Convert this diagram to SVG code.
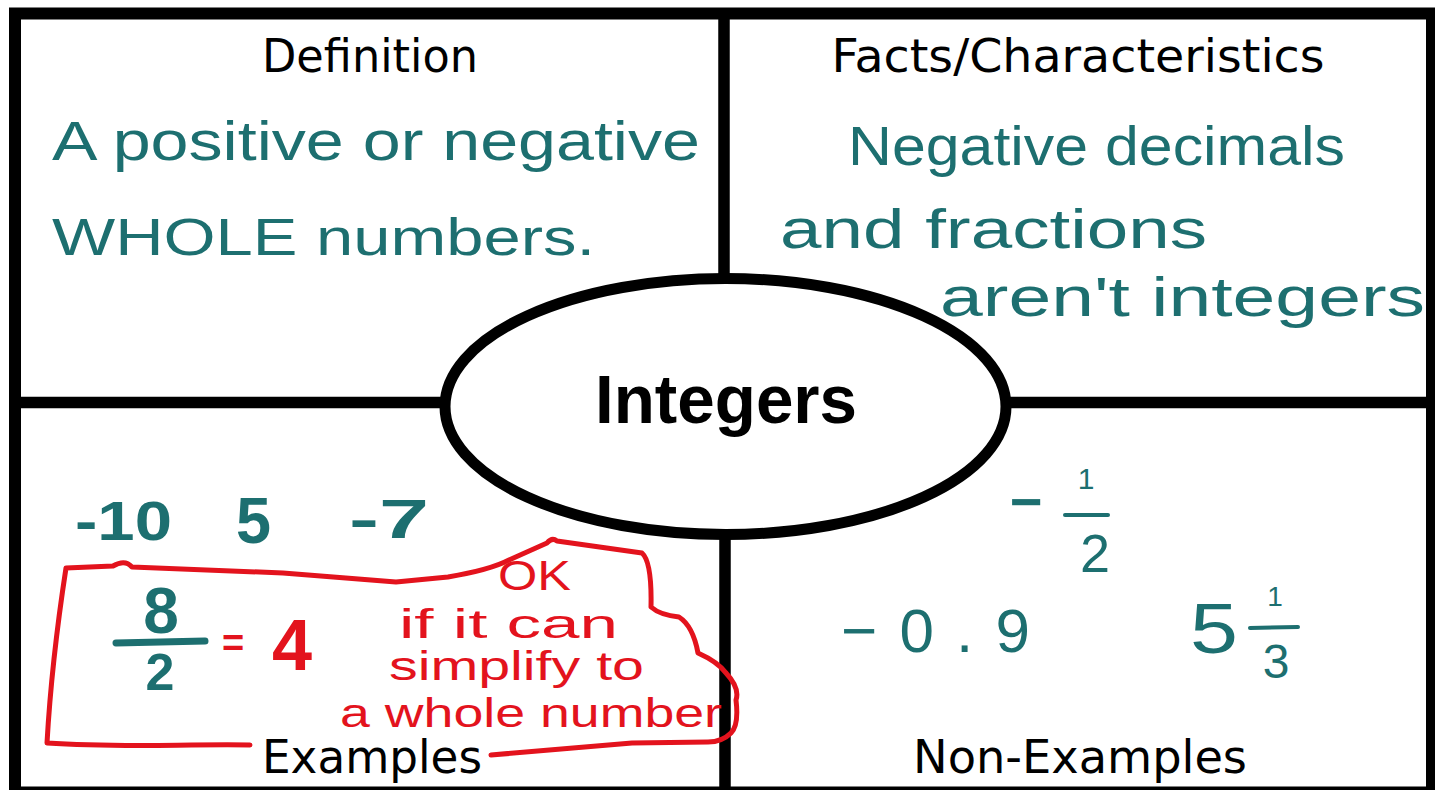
<svg xmlns="http://www.w3.org/2000/svg" width="1435" height="790" viewBox="0 0 1435 790">
<defs>
<style>
.frame{fill:none;stroke:#000;stroke-width:12}
.div{stroke:#000;stroke-width:11.5}
.label{font-family:"DejaVu Sans","Liberation Sans",sans-serif;font-size:46px;fill:#000;text-anchor:middle}
.hand{font-family:"Liberation Sans",Arial,sans-serif;fill:#1d6f70}
.red{font-family:"Liberation Sans",Arial,sans-serif;fill:#e3131d}
.bar{stroke:#1d6f70;stroke-linecap:round}
</style>
</defs>
<rect x="0" y="0" width="1435" height="790" fill="#fff"/>
<g id="dividers">
<line class="div" x1="724" y1="13" x2="724" y2="300"/>
<line class="div" x1="725" y1="510" x2="725" y2="792"/>
<line class="div" x1="15" y1="402.5" x2="470" y2="402.5"/>
<line class="div" x1="980" y1="402.5" x2="1432" y2="402.5"/>
</g>
<g id="frame">
<rect class="frame" x="15" y="13.5" width="1417" height="779"/>
</g>
<g id="center">
<ellipse cx="725.5" cy="406.5" rx="280.5" ry="128" fill="#fff" stroke="#000" stroke-width="11"/>
<text x="726" y="423" font-family="Liberation Sans,Arial,sans-serif" font-weight="bold" font-size="68" text-anchor="middle" textLength="262" lengthAdjust="spacingAndGlyphs">Integers</text>
</g>
<g id="definition">
<text class="label" x="370" y="72" textLength="216" lengthAdjust="spacingAndGlyphs">Definition</text>
<text class="hand" x="52" y="160" font-size="56" textLength="648" lengthAdjust="spacingAndGlyphs">A positive or negative</text>
<text class="hand" x="52" y="255" font-size="52" textLength="543" lengthAdjust="spacingAndGlyphs">WHOLE numbers.</text>
</g>
<g id="facts">
<text class="label" x="1078" y="72" textLength="493" lengthAdjust="spacingAndGlyphs">Facts/Characteristics</text>
<text class="hand" x="848" y="165" font-size="56" textLength="497" lengthAdjust="spacingAndGlyphs">Negative decimals</text>
<text class="hand" x="780" y="248" font-size="56" textLength="427" lengthAdjust="spacingAndGlyphs">and fractions</text>
<text class="hand" x="940" y="316" font-size="56" textLength="485" lengthAdjust="spacingAndGlyphs">aren't integers</text>
</g>
<g id="examples">
<text class="label" x="372" y="773" textLength="220" lengthAdjust="spacingAndGlyphs">Examples</text>
<text class="hand" x="75" y="540" font-size="56" font-weight="bold" textLength="97" lengthAdjust="spacingAndGlyphs">-10</text>
<text class="hand" x="236" y="543" font-size="64" font-weight="bold" textLength="35" lengthAdjust="spacingAndGlyphs">5</text>
<text class="hand" x="349" y="538" font-size="56" font-weight="bold" textLength="80" lengthAdjust="spacingAndGlyphs">-7</text>
<text class="hand" x="161" y="633" font-size="64" font-weight="bold" text-anchor="middle">8</text>
<line class="bar" x1="116" y1="643" x2="205" y2="641" stroke-width="7"/>
<text class="hand" x="160" y="690" font-size="52" font-weight="bold" text-anchor="middle">2</text>
<text class="red" x="233" y="656" font-size="38" font-weight="bold" text-anchor="middle">=</text>
<text class="red" x="292" y="670" font-size="72" font-weight="bold" text-anchor="middle">4</text>
<text class="red" x="498" y="590" font-size="42" textLength="73" lengthAdjust="spacingAndGlyphs">OK</text>
<text class="red" x="399" y="638" font-size="40" textLength="219" lengthAdjust="spacingAndGlyphs">if it can</text>
<text class="red" x="389" y="680" font-size="40" textLength="255" lengthAdjust="spacingAndGlyphs">simplify to</text>
<text class="red" x="340" y="727" font-size="40" textLength="382" lengthAdjust="spacingAndGlyphs">a whole number</text>
<path d="M250,745 C180,744 120,748 47,743 C50,690 58,620 66,568 L113,566 Q125,559 132,567 L283,573 L396,582 L448,577 Q490,570 509,560 L547,543 Q552,537 557,541 L642,553 Q652,562 651,607 Q660,615 679,617 Q693,626 698,653 Q718,662 726,673 Q740,688 736,700 Q739,725 731,733 Q722,742 708,742 L632,743 L491,755" fill="none" stroke="#e3131d" stroke-width="5" stroke-linecap="round" stroke-linejoin="round"/>
</g>
<g id="non-examples">
<text class="label" x="1080" y="773" textLength="334" lengthAdjust="spacingAndGlyphs">Non-Examples</text>
<text class="hand" x="1010" y="521" font-size="56" font-weight="bold">−</text>
<text class="hand" x="1086" y="489" font-size="30" text-anchor="middle">1</text>
<line class="bar" x1="1065" y1="515" x2="1108" y2="515" stroke-width="4"/>
<text class="hand" x="1095" y="572" font-size="54" text-anchor="middle">2</text>
<text class="hand" x="841" y="652" font-size="62" textLength="189" lengthAdjust="spacing">−0.9</text>
<text class="hand" x="1190" y="653" font-size="70" textLength="48" lengthAdjust="spacingAndGlyphs">5</text>
<text class="hand" x="1275" y="606" font-size="28" text-anchor="middle">1</text>
<line class="bar" x1="1250" y1="628" x2="1298" y2="627" stroke-width="4"/>
<text class="hand" x="1276" y="678" font-size="48" text-anchor="middle">3</text>
</g>
</svg>
